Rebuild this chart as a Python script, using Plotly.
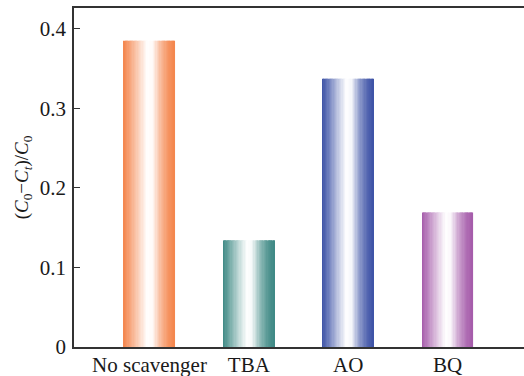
import numpy as np
import plotly.graph_objects as go

categories = ["No scavenger", "TBA", "AO", "BQ"]
values = [0.385, 0.134, 0.337, 0.169]
base_colors = ["#F4854C", "#3E8984", "#3D52A6", "#A55BAA"]
y_ticks = [0, 0.1, 0.2, 0.3, 0.4]
y_tick_labels = ["0", "0.1", "0.2", "0.3", "0.4"]

BAR_W = 0.514
N = 40
# whitening profile across the bar (0 = left edge, 1 = right edge)
prof_t = [0.0, 0.12, 0.3, 0.47, 0.57, 0.72, 0.88, 1.0]
prof_w = [0.0, 0.25, 0.65, 1.0, 0.95, 0.45, 0.12, 0.0]


def hex2rgb(h):
    h = h.lstrip("#")
    return [int(h[i:i + 2], 16) for i in (0, 2, 4)]


def mix(c, w):
    r, g, b = hex2rgb(c)
    return "rgb(%d,%d,%d)" % (round(r + (255 - r) * w), round(g + (255 - g) * w), round(b + (255 - b) * w))


fig = go.Figure()
step = BAR_W / N
for k in range(N):
    t = (k + 0.5) / N
    w = float(np.interp(t, prof_t, prof_w))
    cols = [mix(c, w) for c in base_colors]
    width = step * 1.4 if k < N - 1 else step
    fig.add_trace(go.Bar(
        x=categories, y=values,
        width=[width] * len(categories),
        offset=[-BAR_W / 2 + k * step] * len(categories),
        marker=dict(color=cols, line=dict(width=0)),
        hoverinfo="skip", showlegend=False,
    ))

fig.update_layout(
    width=532, height=376,
    margin=dict(l=74, r=0, t=8, b=29),
    barmode="overlay",
    plot_bgcolor="white", paper_bgcolor="white",
    font=dict(family="Liberation Serif, Times New Roman, serif", size=20, color="#1a1a1a"),
    xaxis=dict(
        type="category", range=[-0.76, 3.85], automargin=False,
        showline=True, linecolor="#333", linewidth=1.5, mirror=True,
        ticks="", showgrid=False, zeroline=False,
        tickfont=dict(size=21), ticklabelstandoff=-2,
    ),
    yaxis=dict(
        range=[0, 0.426], tickvals=y_ticks, ticktext=y_tick_labels, automargin=False,
        showline=True, linecolor="#333", linewidth=1.5, mirror=False,
        ticks="inside", ticklen=6, tickwidth=1.2, tickcolor="#333",
        showgrid=False, zeroline=False,
        tickfont=dict(size=21), ticklabelstandoff=2,
        title=dict(text="(<i>C</i><sub>0</sub>−<i>C<sub>t</sub></i>)/<i>C</i><sub>0</sub>",
                   font=dict(size=19), standoff=6),
    ),
)

fig.write_html(
    "out.html",
    config={"displayModeBar": False, "responsive": False},
    post_script=(
        "document.documentElement.style.overflow='hidden';"
        "document.documentElement.style.margin='0';"
        "document.body.style.margin='0';document.body.style.overflow='hidden';"
    ),
)
